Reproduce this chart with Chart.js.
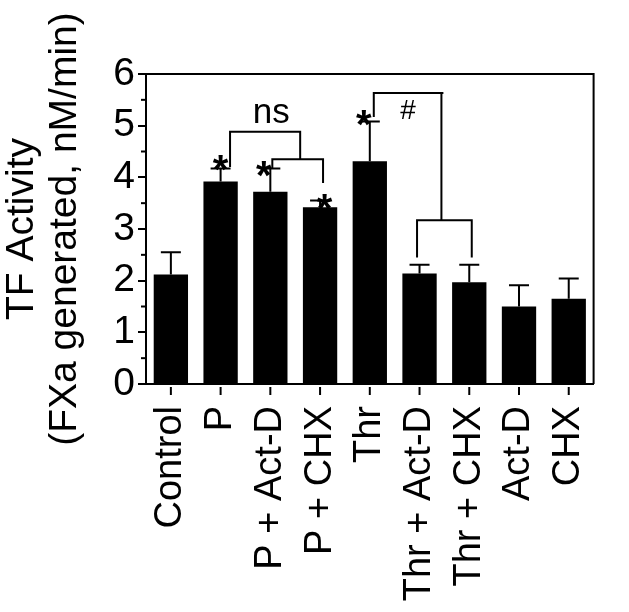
<!DOCTYPE html>
<html>
<head>
<meta charset="utf-8">
<script src="https://cdn.jsdelivr.net/npm/chart.js@4"></script>
<style>
    html, body { margin: 0; padding: 0; background: #fff; }
</style>
</head>
<body>
<canvas id="grafico" width="629" height="612"></canvas>
<script>
const categorie = ['Control', 'P', 'P + Act-D', 'P + CHX', 'Thr', 'Thr + Act-D', 'Thr + CHX', 'Act-D', 'CHX']
const valori = [2.12, 3.92, 3.72, 3.42, 4.31, 2.14, 1.97, 1.50, 1.65]
const errori = [0.43, 0.25, 0.45, 0.13, 0.77, 0.17, 0.34, 0.41, 0.39]
const tickMinori = [0.5, 1.5, 2.5, 3.5, 4.5, 5.5]

// asterischi: [indice categoria, valore]
const asterischi = [[1.0, 4.34], [1.87, 4.21], [3.09, 3.58], [3.88, 5.21]]

// parentesi in coordinate dati [indice, valore]
const parentesiNs = [
    [[1.19, 4.20], [1.19, 4.88], [2.60, 4.88], [2.60, 4.35]],
    [[2.04, 4.18], [2.04, 4.35], [3.06, 4.35], [3.06, 3.89]]
]
const parentesiCancelletto = [
    [[4.08, 5.17], [4.08, 5.63], [5.48, 5.63]],
    [[5.44, 5.63], [5.44, 3.17]],
    [[4.95, 2.45], [4.95, 3.17], [6.05, 3.17], [6.05, 2.45]]
]
const testi = [
    { testo: 'ns', x: 2.02, y: 5.24, font: '35px "Liberation Sans", Arial, sans-serif' },
    { testo: '#', x: 4.77, y: 5.27, font: '28px "Liberation Sans", Arial, sans-serif' }
]

const FONT = '"Liberation Sans", Arial, sans-serif'

const annotazioni = {
    id: 'annotazioni',
    afterDatasetsDraw(chart) {
        const ctx = chart.ctx
        const xs = chart.scales.x
        const ys = chart.scales.y
        const area = chart.chartArea
        ctx.save()
        ctx.strokeStyle = '#000'
        ctx.fillStyle = '#000'
        ctx.lineWidth = 2

        // cornice sopra e a destra
        ctx.beginPath()
        ctx.moveTo(area.left, area.top)
        ctx.lineTo(area.right, area.top)
        ctx.lineTo(area.right, area.bottom)
        ctx.stroke()

        // tacche minori asse y
        tickMinori.forEach(v => {
            const py = ys.getPixelForValue(v)
            ctx.beginPath()
            ctx.moveTo(area.left - 5, py)
            ctx.lineTo(area.left, py)
            ctx.stroke()
        })

        // tacche asse x
        categorie.forEach((c, i) => {
            const px = xs.getPixelForValue(i)
            ctx.beginPath()
            ctx.moveTo(px, area.bottom + 3)
            ctx.lineTo(px, area.bottom + 11)
            ctx.stroke()
        })

        // barre di errore
        valori.forEach((v, i) => {
            const px = xs.getPixelForValue(i)
            const y0 = ys.getPixelForValue(v)
            const y1 = ys.getPixelForValue(v + errori[i])
            ctx.beginPath()
            ctx.moveTo(px, y0)
            ctx.lineTo(px, y1)
            ctx.moveTo(px - 10, y1)
            ctx.lineTo(px + 10, y1)
            ctx.stroke()
        })

        // parentesi
        const disegna = linee => linee.forEach(linea => {
            ctx.beginPath()
            linea.forEach(([i, v], k) => {
                const px = xs.getPixelForValue(i)
                const py = ys.getPixelForValue(v)
                if (k === 0) ctx.moveTo(px, py)
                else ctx.lineTo(px, py)
            })
            ctx.stroke()
        })
        disegna(parentesiNs)
        disegna(parentesiCancelletto)

        // asterischi
        ctx.font = 'bold 40px ' + FONT
        ctx.textAlign = 'center'
        ctx.textBaseline = 'alphabetic'
        asterischi.forEach(([i, v]) => {
            ctx.fillText('*', xs.getPixelForValue(i), ys.getPixelForValue(v) + 23)
        })

        // testi
        ctx.textBaseline = 'middle'
        testi.forEach(t => {
            ctx.font = t.font
            ctx.fillText(t.testo, xs.getPixelForValue(t.x), ys.getPixelForValue(t.y))
        })
        ctx.restore()
    }
}

new Chart(document.getElementById('grafico'), {
    type: 'bar',
    data: {
        labels: categorie,
        datasets: [{
            data: valori,
            backgroundColor: '#000',
            borderWidth: 0,
            barPercentage: 0.69,
            categoryPercentage: 1
        }]
    },
    options: {
        responsive: false,
        animation: false,
        layout: { padding: { top: 74, right: 12, left: 0, bottom: 0 } },
        plugins: {
            legend: { display: false },
            tooltip: { enabled: false }
        },
        scales: {
            x: {
                grid: { display: false },
                border: { display: true, color: '#000', width: 2 },
                ticks: {
                    color: '#000',
                    font: { family: FONT, size: 38 },
                    padding: 14,
                    minRotation: 90,
                    maxRotation: 90,
                    autoSkip: false
                },
                afterFit(scale) { scale.height = 228 }
            },
            y: {
                min: 0,
                max: 6,
                grid: { drawOnChartArea: false, tickLength: 8, color: '#000', lineWidth: 2 },
                border: { display: true, color: '#000', width: 2 },
                ticks: {
                    stepSize: 1,
                    color: '#000',
                    padding: 3,
                    font: { family: FONT, size: 39 }
                },
                title: {
                    display: true,
                    text: ['TF Activity', '(FXa generated, nM/min)'],
                    color: '#000',
                    font: { family: FONT, size: 39, lineHeight: 1.1 },
                    padding: { top: 1, bottom: 0 }
                },
                afterFit(scale) { scale.width = 146 }
            }
        }
    },
    plugins: [annotazioni]
})
</script>
</body>
</html>
